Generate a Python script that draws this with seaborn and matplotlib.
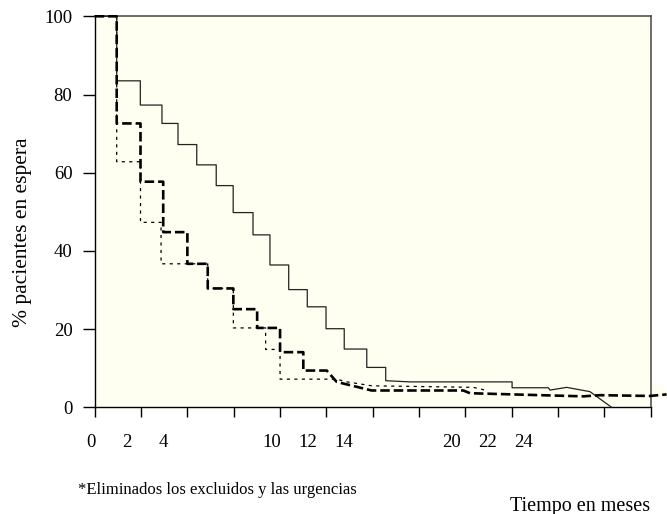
import numpy as np
import pandas as pd
import seaborn as sns
import matplotlib
matplotlib.use("Agg")
import matplotlib.pyplot as plt
from matplotlib.patches import Polygon

# ---------------- data ----------------
# times in months, values in % of patients still waiting
solid_drop_times = [1.22, 2.53, 3.73, 4.62, 5.66, 6.74, 7.68, 8.78, 9.72, 10.76,
                    11.79, 12.83, 13.84, 15.09, 16.14]
solid_levels = [100, 83.5, 77.3, 72.6, 67.2, 62.0, 56.7, 49.8, 44.1, 36.4, 30.1,
                25.7, 20.1, 14.9, 10.2, 6.8]
solid_tail_x = [17.49, 23.15, 23.15, 25.16, 25.25, 26.18, 27.47, 28.67]
solid_tail_y = [6.5, 6.5, 5.0, 5.0, 4.4, 5.1, 4.0, 0.0]

dashed_drop_times = [1.22, 2.54, 3.80, 5.14, 6.27, 7.69, 9.01, 10.28, 11.57]
dashed_levels = [100, 72.6, 57.7, 44.8, 36.7, 30.4, 25.1, 20.3, 14.1, 9.4]
dashed_tail_x = [12.87, 13.42, 15.36, 20.44, 20.82, 27.10, 28.03, 30.80, 31.72]
dashed_tail_y = [9.4, 6.5, 4.3, 4.3, 3.6, 2.8, 3.1, 2.9, 3.3]

dotted_drop_times = [1.22, 2.54, 3.68, 6.27, 7.69, 9.48, 10.28]
dotted_levels = [100, 62.8, 47.3, 36.7, 30.4, 20.3, 14.8, 7.2]
dotted_tail_x = [13.40, 14.00, 15.36, 21.00, 21.74]
dotted_tail_y = [7.2, 6.5, 5.5, 5.1, 4.3]

y_ticks = [0, 20, 40, 60, 80, 100]
x_tick_labels = [0, 2, 4, 10, 12, 14, 20, 22, 24]
n_x_ticks = 13

ylabel = "% pacientes en espera"
xlabel = "Tiempo en meses"
note = "*Eliminados los excluidos y las urgencias"


def step_vertices(drop_times, levels, tail_x, tail_y):
    xs, ys = [0.0], [levels[0]]
    for t, before, after in zip(drop_times, levels[:-1], levels[1:]):
        xs += [t, t]
        ys += [before, after]
    xs += list(tail_x)
    ys += list(tail_y)
    return pd.DataFrame({"t": xs, "p": ys})


solid = step_vertices(solid_drop_times, solid_levels, solid_tail_x, solid_tail_y)
dashed = step_vertices(dashed_drop_times, dashed_levels, dashed_tail_x, dashed_tail_y)
dotted = step_vertices(dotted_drop_times, dotted_levels, dotted_tail_x, dotted_tail_y)

# ---------------- figure ----------------
sns.set_theme(style="white")
plt.rcParams["font.family"] = ["Liberation Serif", "DejaVu Serif"]

W, H = 667, 514
fig = plt.figure(figsize=(W / 100, H / 100), dpi=100)
left_px, right_px, top_px, bottom_px = 94.7, 650.7, 16.3, 407.3
ax = fig.add_axes([left_px / W, 1 - bottom_px / H,
                   (right_px - left_px) / W, (bottom_px - top_px) / H])

bg = "#FFFFF1"
ax.set_facecolor(bg)
xmax = (right_px - left_px) / 18.03
ax.set_xlim(0, xmax)
ax.set_ylim(0, 100)

# small cream extension past the right frame (as in the reference)
ext = Polygon([(xmax, 2.6), (xmax, 6.2), (xmax + 0.4, 6.2), (xmax + 0.9, 4.4),
               (xmax + 0.9, 2.6)], closed=True, facecolor=bg, edgecolor="none",
              clip_on=False, zorder=0.5)
ax.add_patch(ext)

sns.lineplot(data=dotted, x="t", y="p", sort=False, estimator=None, ax=ax,
             color="black", lw=0.9, linestyle=(0, (2.5, 3.5)), zorder=2)
sns.lineplot(data=solid, x="t", y="p", sort=False, estimator=None, ax=ax,
             color="#222222", lw=0.9, zorder=3)
sns.lineplot(data=dashed, x="t", y="p", sort=False, estimator=None, ax=ax,
             color="black", lw=1.9, linestyle=(0, (3.6, 1.5)), zorder=4)
for line in ax.lines:
    line.set_clip_on(False)

# axes frame
for s in ["left", "bottom"]:
    ax.spines[s].set_color("black")
    ax.spines[s].set_linewidth(1.0)
for s in ["top", "right"]:
    ax.spines[s].set_color("#444444")
    ax.spines[s].set_linewidth(1.1)
    ax.spines[s].set_visible(True)

ax.set_yticks(y_ticks)
ax.set_yticklabels([str(v) for v in y_ticks])
ax.set_xticks(np.linspace(0, xmax, n_x_ticks))
ax.set_xticklabels([])
ax.tick_params(axis="y", direction="out", length=9, width=1.0, pad=7,
               labelsize=13.5, colors="black", left=True)
ax.tick_params(axis="x", direction="out", length=7.5, width=1.0,
               bottom=True, colors="black")
ax.set_xlabel("")
ax.set_ylabel("")

# x labels, placed at their month values (slightly offset as in the reference)
trans = matplotlib.transforms.blended_transform_factory(ax.transData, ax.transAxes)
for v in x_tick_labels:
    ax.text(v - 0.2, -0.089, str(v), transform=trans, ha="center", va="center",
            fontsize=13.5, color="black")

fig.text(23 / W, 1 - 232 / H, ylabel, rotation=90, ha="center", va="center",
         fontsize=15.5, color="black")
fig.text(78 / W, 1 - 490 / H, note, ha="left", va="center", fontsize=12,
         color="black")
fig.text(650 / W, 1 - 506 / H, xlabel, ha="right", va="center", fontsize=14.5,
         color="black")

fig.savefig("out.png", dpi=100, facecolor="white")
